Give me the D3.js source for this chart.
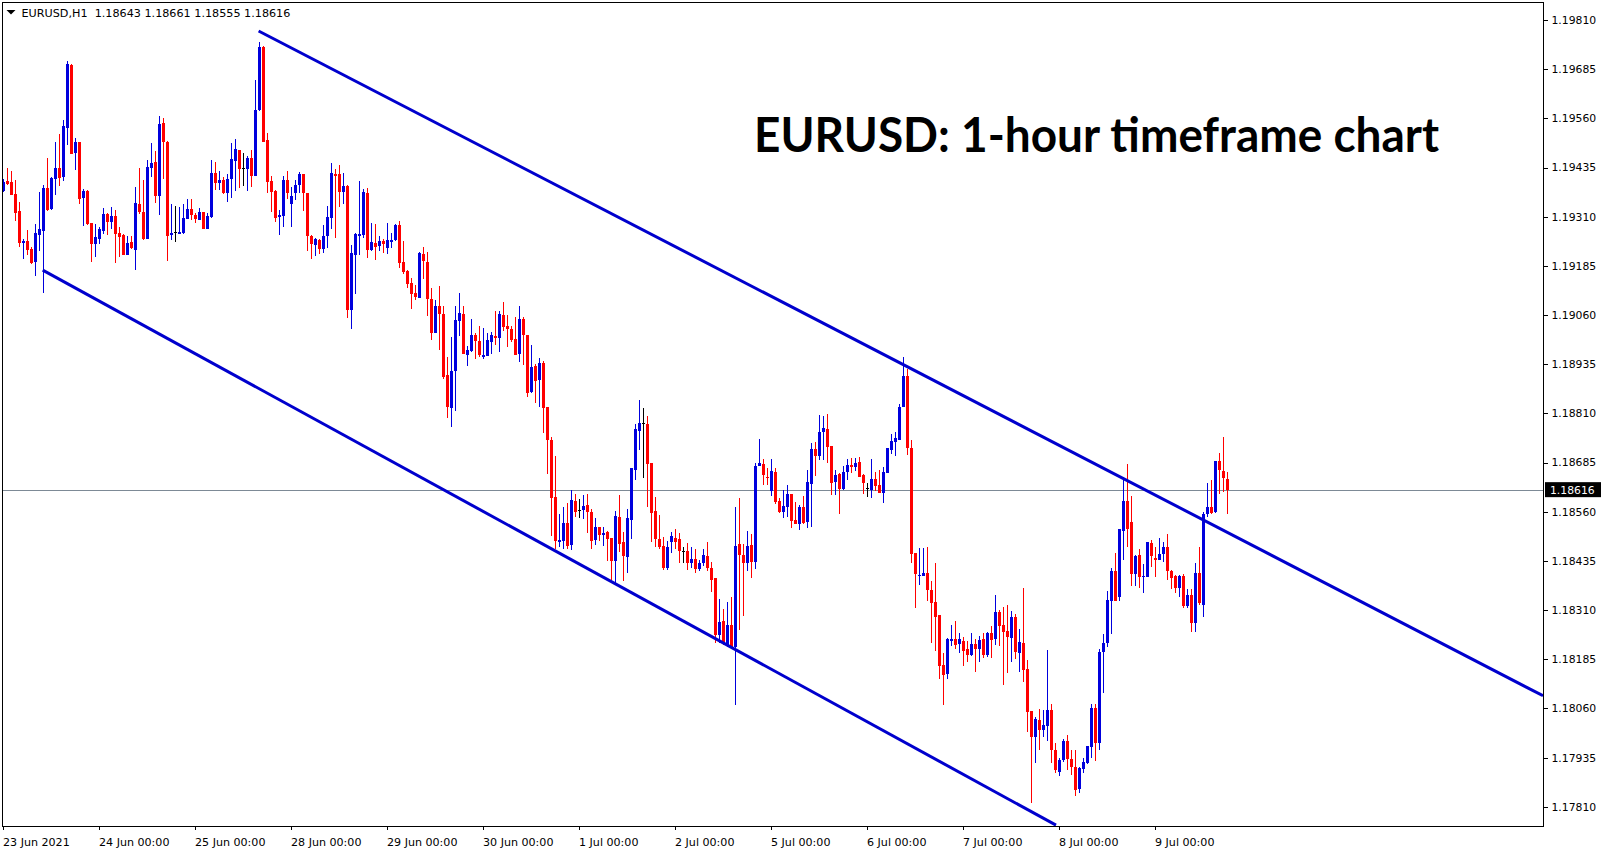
<!DOCTYPE html>
<html><head><meta charset="utf-8">
<script src="https://cdn.jsdelivr.net/npm/d3@7"></script>
<style>html,body{margin:0;padding:0;background:#fff;}svg{display:block;}</style>
</head><body>
<svg id="c" width="1607" height="850"></svg>
<script>
const symbolLabel = "EURUSD,H1";
const chartTitle = "EURUSD: 1-hour timeframe chart";
const lastBar = [1.18643, 1.18661, 1.18555, 1.18616];

const open = [
1.19376,1.19401,1.19398,1.19367,1.19324,1.19244,1.19248,1.19228,1.19195,1.19264,
1.19274,1.19383,1.19330,1.19406,1.19434,1.19412,1.19536,1.19695,1.19473,1.19500,
1.19357,1.19375,1.19295,1.19241,1.19254,1.19273,1.19317,1.19297,1.19312,1.19268,
1.19263,1.19213,1.19245,1.19226,1.19343,1.19322,1.19253,1.19434,1.19449,1.19363,
1.19548,1.19501,1.19264,1.19270,1.19267,1.19269,1.19305,1.19329,1.19315,1.19301,
1.19322,1.19279,1.19309,1.19421,1.19396,1.19404,1.19370,1.19407,1.19452,1.19479,
1.19433,1.19430,1.19460,1.19414,1.19580,1.19741,1.19504,1.19401,1.19376,1.19309,
1.19312,1.19403,1.19343,1.19369,1.19391,1.19419,1.19369,1.19262,1.19239,1.19251,
1.19227,1.19262,1.19307,1.19419,1.19419,1.19374,1.19388,1.19074,1.19213,1.19262,
1.19264,1.19371,1.19226,1.19242,1.19235,1.19248,1.19231,1.19246,1.19250,1.19289,
1.19194,1.19172,1.19142,1.19117,1.19104,1.19216,1.19196,1.19101,1.19015,1.19083,
1.19063,1.18908,1.18824,1.18918,1.19046,1.19063,1.18959,1.18969,1.19010,1.18995,
1.18954,1.18957,1.18992,1.19007,1.19002,1.19060,1.19032,1.19025,1.18999,1.18961,
1.19050,1.19010,1.18864,1.18931,1.18895,1.18938,1.18826,1.18742,1.18597,1.18484,
1.18486,1.18531,1.18476,1.18587,1.18564,1.18564,1.18577,1.18559,1.18488,1.18521,
1.18502,1.18508,1.18493,1.18435,1.18547,1.18483,1.18446,1.18540,1.18667,1.18766,
1.18784,1.18783,1.18684,1.18562,1.18491,1.18472,1.18417,1.18482,1.18493,1.18491,
1.18460,1.18460,1.18430,1.18440,1.18415,1.18429,1.18447,1.18418,1.18392,1.18246,
1.18283,1.18219,1.18272,1.18217,1.18477,1.18450,1.18429,1.18475,1.18433,1.18675,
1.18681,1.18649,1.18613,1.18661,1.18587,1.18559,1.18573,1.18606,1.18539,1.18529,
1.18572,1.18534,1.18631,1.18719,1.18701,1.18763,1.18770,1.18726,1.18635,1.18656,
1.18618,1.18662,1.18679,1.18674,1.18686,1.18653,1.18619,1.18614,1.18643,1.18628,
1.18608,1.18659,1.18718,1.18738,1.18742,1.18826,1.18905,1.18723,1.18455,1.18397,
1.18397,1.18404,1.18361,1.18330,1.18297,1.18170,1.18147,1.18232,1.18236,1.18224,
1.18231,1.18212,1.18196,1.18223,1.18210,1.18236,1.18196,1.18252,1.18237,1.18305,
1.18271,1.18257,1.18240,1.18292,1.18201,1.18226,1.18160,1.18054,1.17987,1.18031,
1.18004,1.18016,1.18056,1.17954,1.17899,1.17929,1.17977,1.17931,1.17910,1.17854,
1.17907,1.17921,1.17963,1.18062,1.17973,1.18203,1.18226,1.18334,1.18410,1.18342,
1.18510,1.18586,1.18533,1.18401,1.18450,1.18393,1.18395,1.18481,1.18443,1.18437,
1.18453,1.18471,1.18409,1.18397,1.18366,1.18397,1.18319,1.18348,1.18276,1.18404,
1.18324,1.18554,1.18571,1.18558,1.18688,1.18663,1.18643];

const high = [
1.19405,1.19434,1.19426,1.19403,1.19347,1.19253,1.19276,1.19232,1.19291,1.19373,
1.19391,1.19460,1.19412,1.19500,1.19521,1.19556,1.19706,1.19698,1.19509,1.19501,
1.19381,1.19379,1.19295,1.19291,1.19284,1.19332,1.19320,1.19334,1.19327,1.19284,
1.19265,1.19261,1.19261,1.19385,1.19434,1.19403,1.19454,1.19498,1.19477,1.19566,
1.19562,1.19502,1.19342,1.19338,1.19334,1.19342,1.19355,1.19355,1.19319,1.19331,
1.19323,1.19319,1.19454,1.19450,1.19427,1.19411,1.19418,1.19497,1.19507,1.19479,
1.19472,1.19464,1.19479,1.19658,1.19754,1.19745,1.19523,1.19414,1.19379,1.19327,
1.19414,1.19426,1.19385,1.19402,1.19424,1.19419,1.19369,1.19263,1.19257,1.19252,
1.19289,1.19337,1.19446,1.19431,1.19441,1.19420,1.19391,1.19238,1.19268,1.19401,
1.19380,1.19383,1.19294,1.19291,1.19260,1.19253,1.19294,1.19268,1.19291,1.19299,
1.19248,1.19174,1.19153,1.19136,1.19221,1.19234,1.19221,1.19128,1.19098,1.19134,
1.19083,1.18952,1.19004,1.19083,1.19116,1.19084,1.18980,1.19050,1.19013,1.19032,
1.19027,1.19015,1.19017,1.19070,1.19070,1.19094,1.19060,1.19033,1.19054,1.19083,
1.19055,1.19010,1.18984,1.18935,1.18951,1.18942,1.18826,1.18749,1.18702,1.18555,
1.18572,1.18581,1.18615,1.18605,1.18592,1.18602,1.18606,1.18566,1.18543,1.18522,
1.18521,1.18512,1.18493,1.18562,1.18602,1.18509,1.18567,1.18671,1.18784,1.18844,
1.18824,1.18803,1.18685,1.18597,1.18551,1.18496,1.18485,1.18509,1.18516,1.18505,
1.18469,1.18480,1.18469,1.18466,1.18438,1.18465,1.18483,1.18431,1.18392,1.18339,
1.18312,1.18330,1.18344,1.18572,1.18595,1.18477,1.18511,1.18503,1.18685,1.18745,
1.18694,1.18670,1.18694,1.18670,1.18596,1.18614,1.18628,1.18606,1.18585,1.18576,
1.18600,1.18666,1.18735,1.18736,1.18805,1.18804,1.18808,1.18726,1.18666,1.18659,
1.18676,1.18695,1.18696,1.18696,1.18699,1.18657,1.18632,1.18694,1.18661,1.18666,
1.18673,1.18722,1.18757,1.18763,1.18834,1.18953,1.18924,1.18742,1.18455,1.18468,
1.18468,1.18470,1.18384,1.18429,1.18297,1.18201,1.18238,1.18271,1.18282,1.18251,
1.18242,1.18230,1.18251,1.18236,1.18244,1.18251,1.18255,1.18270,1.18349,1.18310,
1.18318,1.18323,1.18307,1.18300,1.18262,1.18366,1.18183,1.18054,1.18039,1.18058,
1.18056,1.18209,1.18071,1.17971,1.17933,1.17982,1.17993,1.17954,1.17954,1.17910,
1.17933,1.17965,1.18071,1.18071,1.18211,1.18248,1.18358,1.18416,1.18455,1.18516,
1.18649,1.18682,1.18600,1.18450,1.18465,1.18427,1.18483,1.18488,1.18469,1.18494,
1.18484,1.18504,1.18412,1.18398,1.18398,1.18402,1.18363,1.18363,1.18429,1.18471,
1.18560,1.18634,1.18641,1.18688,1.18710,1.18749,1.18661];

const low = [
1.19373,1.19391,1.19365,1.19300,1.19234,1.19203,1.19213,1.19189,1.19160,1.19223,
1.19117,1.19325,1.19328,1.19366,1.19389,1.19401,1.19492,1.19470,1.19428,1.19342,
1.19286,1.19290,1.19195,1.19208,1.19241,1.19266,1.19264,1.19278,1.19193,1.19208,
1.19212,1.19212,1.19227,1.19175,1.19318,1.19251,1.19253,1.19412,1.19345,1.19315,
1.19406,1.19198,1.19251,1.19246,1.19265,1.19267,1.19305,1.19301,1.19295,1.19301,
1.19279,1.19278,1.19306,1.19378,1.19378,1.19368,1.19348,1.19358,1.19375,1.19382,
1.19388,1.19376,1.19386,1.19414,1.19579,1.19499,1.19369,1.19323,1.19296,1.19263,
1.19284,1.19354,1.19284,1.19353,1.19369,1.19325,1.19224,1.19203,1.19211,1.19216,
1.19218,1.19231,1.19278,1.19255,1.19335,1.19343,1.19053,1.19025,1.19113,1.19213,
1.19255,1.19206,1.19223,1.19201,1.19223,1.19218,1.19216,1.19231,1.19248,1.19179,
1.19163,1.19128,1.19076,1.19098,1.19104,1.19152,1.19058,1.18996,1.19013,1.18971,
1.18897,1.18799,1.18776,1.18817,1.19007,1.18961,1.18931,1.18966,1.18948,1.18954,
1.18949,1.18955,1.18962,1.18985,1.18966,1.19019,1.18979,1.18992,1.18959,1.18941,
1.18932,1.18852,1.18862,1.18837,1.18827,1.18761,1.18657,1.18499,1.18464,1.18469,
1.18464,1.18464,1.18463,1.18547,1.18545,1.18541,1.18505,1.18466,1.18476,1.18486,
1.18474,1.18435,1.18386,1.18378,1.18458,1.18384,1.18405,1.18491,1.18641,1.18717,
1.18646,1.18573,1.18484,1.18471,1.18465,1.18411,1.18411,1.18456,1.18464,1.18430,
1.18430,1.18411,1.18416,1.18405,1.18409,1.18422,1.18410,1.18357,1.18225,1.18225,
1.18221,1.18215,1.18214,1.18068,1.18260,1.18296,1.18410,1.18392,1.18415,1.18675,
1.18628,1.18628,1.18601,1.18580,1.18557,1.18545,1.18546,1.18519,1.18529,1.18514,
1.18529,1.18519,1.18522,1.18651,1.18691,1.18691,1.18685,1.18602,1.18602,1.18554,
1.18615,1.18640,1.18659,1.18664,1.18649,1.18605,1.18597,1.18596,1.18613,1.18607,
1.18583,1.18659,1.18706,1.18702,1.18742,1.18826,1.18705,1.18429,1.18314,1.18374,
1.18396,1.18334,1.18227,1.18207,1.18134,1.18069,1.18134,1.18218,1.18210,1.18200,
1.18168,1.18178,1.18194,1.18153,1.18177,1.18188,1.18191,1.18188,1.18220,1.18219,
1.18120,1.18149,1.18178,1.18186,1.18153,1.18128,1.18001,1.17819,1.17921,1.17954,
1.17988,1.17977,1.17922,1.17895,1.17889,1.17923,1.17904,1.17891,1.17837,1.17846,
1.17895,1.17918,1.17935,1.17925,1.17953,1.18100,1.18215,1.18248,1.18332,1.18334,
1.18438,1.18470,1.18371,1.18370,1.18365,1.18353,1.18393,1.18420,1.18395,1.18436,
1.18433,1.18387,1.18363,1.18353,1.18343,1.18316,1.18316,1.18253,1.18253,1.18323,
1.18292,1.18546,1.18554,1.18556,1.18605,1.18609,1.18555];

const close = [
1.19399,1.19393,1.19366,1.19320,1.19244,1.19247,1.19225,1.19193,1.19268,1.19278,
1.19383,1.19327,1.19409,1.19434,1.19409,1.19540,1.19698,1.19470,1.19500,1.19355,
1.19375,1.19291,1.19241,1.19258,1.19278,1.19317,1.19297,1.19312,1.19267,1.19259,
1.19213,1.19244,1.19231,1.19345,1.19322,1.19253,1.19436,1.19446,1.19363,1.19545,
1.19501,1.19262,1.19268,1.19270,1.19271,1.19306,1.19330,1.19315,1.19303,1.19322,
1.19279,1.19312,1.19421,1.19396,1.19404,1.19370,1.19407,1.19457,1.19482,1.19430,
1.19433,1.19460,1.19414,1.19581,1.19741,1.19499,1.19399,1.19374,1.19307,1.19314,
1.19403,1.19371,1.19363,1.19391,1.19419,1.19369,1.19262,1.19241,1.19253,1.19227,
1.19261,1.19309,1.19421,1.19414,1.19374,1.19388,1.19074,1.19218,1.19266,1.19266,
1.19373,1.19226,1.19246,1.19234,1.19248,1.19241,1.19250,1.19251,1.19289,1.19193,
1.19169,1.19140,1.19113,1.19107,1.19217,1.19197,1.19101,1.19015,1.19083,1.19062,
1.18903,1.18827,1.18918,1.19047,1.19066,1.18961,1.18971,1.19009,1.18995,1.18958,
1.18959,1.18996,1.19008,1.19002,1.19063,1.19029,1.19025,1.18997,1.18959,1.19050,
1.19008,1.18863,1.18929,1.18893,1.18938,1.18824,1.18741,1.18596,1.18486,1.18488,
1.18531,1.18474,1.18590,1.18560,1.18564,1.18574,1.18559,1.18486,1.18522,1.18502,
1.18507,1.18491,1.18435,1.18550,1.18479,1.18448,1.18544,1.18671,1.18770,1.18785,
1.18784,1.18682,1.18557,1.18491,1.18469,1.18417,1.18470,1.18498,1.18483,1.18461,
1.18460,1.18430,1.18440,1.18415,1.18429,1.18450,1.18418,1.18386,1.18246,1.18279,
1.18227,1.18273,1.18217,1.18474,1.18450,1.18430,1.18474,1.18433,1.18676,1.18684,
1.18652,1.18647,1.18663,1.18584,1.18558,1.18574,1.18606,1.18537,1.18529,1.18572,
1.18532,1.18635,1.18719,1.18702,1.18762,1.18773,1.18725,1.18634,1.18653,1.18618,
1.18662,1.18679,1.18674,1.18685,1.18649,1.18634,1.18619,1.18643,1.18626,1.18608,
1.18661,1.18722,1.18740,1.18747,1.18826,1.18905,1.18723,1.18453,1.18402,1.18399,
1.18404,1.18362,1.18329,1.18293,1.18168,1.18146,1.18236,1.18236,1.18222,1.18236,
1.18206,1.18196,1.18223,1.18210,1.18234,1.18195,1.18252,1.18235,1.18305,1.18270,
1.18255,1.18242,1.18292,1.18204,1.18229,1.18157,1.18051,1.17988,1.18033,1.18004,
1.18018,1.18056,1.17954,1.17904,1.17929,1.17976,1.17931,1.17910,1.17853,1.17908,
1.17924,1.17964,1.18062,1.17971,1.18204,1.18226,1.18336,1.18410,1.18334,1.18516,
1.18586,1.18516,1.18401,1.18448,1.18393,1.18395,1.18483,1.18448,1.18436,1.18452,
1.18469,1.18408,1.18392,1.18366,1.18397,1.18319,1.18348,1.18278,1.18404,1.18327,
1.18555,1.18571,1.18557,1.18688,1.18665,1.18645,1.18616];

const priceTicks = [1.19810,1.19685,1.19560,1.19435,1.19310,1.19185,1.19060,1.18935,
  1.18810,1.18685,1.18560,1.18435,1.18310,1.18185,1.18060,1.17935,1.17810];
const dateTickBars = [0,24,48,72,96,120,144,168,192,216,240,264,288];
const dateTickLabels = ["23 Jun 2021","24 Jun 00:00","25 Jun 00:00","28 Jun 00:00","29 Jun 00:00",
  "30 Jun 00:00","1 Jul 00:00","2 Jul 00:00","5 Jul 00:00","6 Jul 00:00","7 Jul 00:00",
  "8 Jul 00:00","9 Jul 00:00"];
const currentPrice = 1.18616;
// channel lines: [bar index, price]
const upperChannel = [[63.9, 1.19782],[385, 1.18092]];
const lowerChannel = [[9.93, 1.19174],[263.25, 1.17763]];

const BLUE = "#0000dd", RED = "#ff0000", LINEBLUE = "#0000cd";
const FONT = "DejaVu Sans, Verdana, sans-serif";

const svg = d3.select("#c");
const L = 2.5, T = 2.5, R = 1543.5, B = 826;
const x = d3.scaleLinear().domain([0, 385]).range([3, 1543]);
const y = d3.scaleLinear().domain([1.17810, 1.19810]).range([806.7, 20]);

svg.append("rect").attr("width",1607).attr("height",850).attr("fill","#fff");

svg.append("defs").append("clipPath").attr("id","plot")
  .append("rect").attr("x",3).attr("y",3).attr("width",1540).attr("height",823);

const plot = svg.append("g").attr("clip-path","url(#plot)");

// current price line
plot.append("line").attr("x1",3).attr("x2",1543)
  .attr("y1", Math.round(y(currentPrice))+0.5).attr("y2", Math.round(y(currentPrice))+0.5)
  .attr("stroke","#7d8a96").attr("stroke-width",1);

const bars = open.map((o,i)=>({i, o, h: high[i], l: low[i], c: close[i]}));
const colr = d => d.c > d.o ? BLUE : (d.c < d.o ? RED : "#000");

const cg = plot.append("g").attr("shape-rendering","crispEdges");
cg.selectAll("line.wick").data(bars).join("line").attr("class","wick")
  .attr("x1", d => Math.round(x(d.i)) + 0.5).attr("x2", d => Math.round(x(d.i)) + 0.5)
  .attr("y1", d => y(Math.max(d.h, d.o, d.c))).attr("y2", d => y(Math.min(d.l, d.o, d.c)))
  .attr("stroke", colr).attr("stroke-width", 1);
cg.selectAll("rect.body").data(bars).join("rect").attr("class","body")
  .attr("x", d => Math.round(x(d.i)) - 1).attr("width", 3)
  .attr("y", d => {
    const t = y(Math.max(d.o,d.c)), b = y(Math.min(d.o,d.c));
    return (b - t) < 1 ? (t + b)/2 - 0.5 : t;
  })
  .attr("height", d => Math.max(1, y(Math.min(d.o,d.c)) - y(Math.max(d.o,d.c))))
  .attr("fill", colr);

// channel lines
const chan = d3.line().x(d => x(d[0])).y(d => y(d[1]));
[upperChannel, lowerChannel].forEach(pts => {
  plot.append("path").attr("d", chan(pts)).attr("fill","none")
    .attr("stroke", LINEBLUE).attr("stroke-width", 3);
});

// frame
svg.append("rect").attr("x",L).attr("y",T).attr("width",R-L).attr("height",B-T+0.5)
  .attr("fill","none").attr("stroke","#000").attr("stroke-width",1)
  .attr("shape-rendering","crispEdges");

// right price axis
const ya = svg.append("g").attr("transform",`translate(${R},0)`)
  .call(d3.axisRight(y).tickValues(priceTicks).tickSize(4).tickPadding(4)
    .tickFormat(d => d.toFixed(5)));
ya.select(".domain").remove();
ya.selectAll("line").attr("stroke","#000").attr("shape-rendering","crispEdges");
ya.selectAll("text").attr("font-family",FONT).attr("font-size","10.8px").attr("fill","#000");

// bottom time axis
const xa = svg.append("g").attr("transform",`translate(0,${B})`)
  .call(d3.axisBottom(x).tickValues(dateTickBars).tickSize(4).tickPadding(8)
    .tickFormat((d,i) => dateTickLabels[i]));
xa.select(".domain").remove();
xa.selectAll("line").attr("stroke","#000").attr("shape-rendering","crispEdges");
xa.selectAll("text").attr("font-family",FONT).attr("font-size","11.1px").attr("fill","#000")
  .attr("text-anchor","start").attr("x",-0.5);

// current price tag
const cy = y(currentPrice);
svg.append("rect").attr("x",1545).attr("y",cy-7.5).attr("width",56).attr("height",15).attr("fill","#000");
svg.append("text").attr("x",1550).attr("y",cy+4).attr("font-family",FONT).attr("font-size","10.8px")
  .attr("fill","#fff").text(currentPrice.toFixed(5));

// header
svg.append("path").attr("d","M6.5,10 L15.5,10 L11,14.5 Z").attr("fill","#000");
svg.append("text").attr("x",21.5).attr("y",16.8).attr("font-family",FONT).attr("font-size","11.2px")
  .attr("fill","#000").style("white-space","pre")
  .text(symbolLabel + "  " + lastBar.map(v => v.toFixed(5)).join(" "));

// title
svg.append("text").attr("x",754).attr("y",151.5)
  .attr("font-family","Lato, 'Open Sans', sans-serif").attr("font-weight","bold")
  .attr("font-size","47px").attr("fill","#000")
  .attr("textLength",685).attr("lengthAdjust","spacingAndGlyphs")
  .text(chartTitle);
</script>
</body></html>
